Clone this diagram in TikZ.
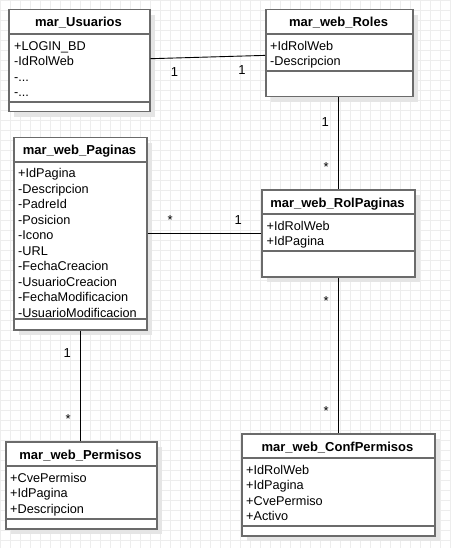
\documentclass[tikz,border=0pt]{standalone}
\usepackage{fontspec}
\setmainfont{Liberation Sans}
\usetikzlibrary{shadows}

\begin{document}
\begin{tikzpicture}[x=1pt,y=1pt,
    classbox/.style={draw=black!58, line width=1.5pt, fill=white, anchor=north west, inner sep=0pt,
      drop shadow={shadow xshift=5pt, shadow yshift=-5pt, fill=black!10, opacity=1}},
    classtitle/.style={anchor=base, inner sep=0pt, font=\fontsize{13}{15}\selectfont\bfseries},
    attrs/.style={anchor=north west, inner sep=0pt, align=left, font=\fontsize{12.7}{15.5}\selectfont},
    sep/.style={draw=black!58, line width=1.5pt},
    conn/.style={draw=black, line width=0.9pt},
    mult/.style={inner sep=0pt, font=\fontsize{13}{15}\selectfont}]
  \useasboundingbox (0,0) rectangle (450,-548);
  \fill[white] (0,0) rectangle (450,-548);
  \draw[black!7, line width=0.5pt] (0,0) grid[step=10] (450,-548);

  % classes
  \node[classbox, minimum width=141, minimum height=102] (usr) at (8,-9) {};
  \node[classtitle] (usrtitle) at (78.5,-27) {mar\_Usuarios};
  \node[attrs] (usrattrs) at (14,-41) {+LOGIN\_BD\\-IdRolWeb\\-...\\-...};
  \draw[sep] (8,-34) -- (149,-34) (8,-102) -- (149,-102);

  \node[classbox, minimum width=147, minimum height=87] (rol) at (265,-9) {};
  \node[classtitle] (roltitle) at (338.5,-27) {mar\_web\_Roles};
  \node[attrs] (rolattrs) at (270,-41) {+IdRolWeb\\-Descripcion};
  \draw[sep] (265,-34) -- (412,-34) (265,-71) -- (412,-71);

  \node[classbox, minimum width=133, minimum height=192] (pag) at (13,-137) {};
  \node[classtitle] (pagtitle) at (79.5,-155) {mar\_web\_Paginas};
  \node[attrs] (pagattrs) at (18,-168.5) {+IdPagina\\-Descripcion\\-PadreId\\-Posicion\\-Icono\\-URL\\
    -FechaCreacion\\-UsuarioCreacion\\-FechaModificacion\\-UsuarioModificacion};
  \draw[sep] (13,-162) -- (146,-162) (13,-319) -- (146,-319);

  \node[classbox, minimum width=153, minimum height=87] (rolpag) at (261,-189) {};
  \node[classtitle] (rolpagtitle) at (337.5,-207) {mar\_web\_RolPaginas};
  \node[attrs] (rolpagattrs) at (266.5,-221) {+IdRolWeb\\+IdPagina};
  \draw[sep] (261,-214) -- (414,-214) (261,-251) -- (414,-251);

  \node[classbox, minimum width=151, minimum height=87] (perm) at (5,-441) {};
  \node[classtitle] (permtitle) at (80.5,-459) {mar\_web\_Permisos};
  \node[attrs] (permattrs) at (10,-473) {+CvePermiso\\+IdPagina\\+Descripcion};
  \draw[sep] (5,-466) -- (156,-466) (5,-519) -- (156,-519);

  \node[classbox, minimum width=193, minimum height=102] (conf) at (241,-433) {};
  \node[classtitle] (conftitle) at (337.5,-451) {mar\_web\_ConfPermisos};
  \node[attrs] (confattrs) at (246,-465) {+IdRolWeb\\+IdPagina\\+CvePermiso\\+Activo};
  \draw[sep] (241,-458) -- (434,-458) (241,-526) -- (434,-526);

  % associations
  \draw[conn] (usr) -- (rol)
    node[mult, pos=.21, below=9] (m1) {1} node[mult, pos=.8, below=9] (m2) {1};
  \draw[conn] (rol.south -| rolpag.north) -- (rolpag.north)
    node[mult, pos=.27, left=9] (m3) {1} node[mult, pos=.76, left=9] (m4) {*};
  \draw[conn] (pag.east |- rolpag.west) -- (rolpag.west)
    node[mult, pos=.2, above=8] (m5) {*} node[mult, pos=.8, above=8] (m6) {1};
  \draw[conn] (rolpag.south) -- (rolpag.south |- conf.north)
    node[mult, pos=.15, left=9] (m7) {*} node[mult, pos=.86, left=9] (m8) {*};
  \draw[conn] (pag.south) -- (pag.south |- perm.north)
    node[mult, pos=.2, left=9] (m9) {1} node[mult, pos=.8, left=9] (m10) {*};
\end{tikzpicture}
\end{document}
